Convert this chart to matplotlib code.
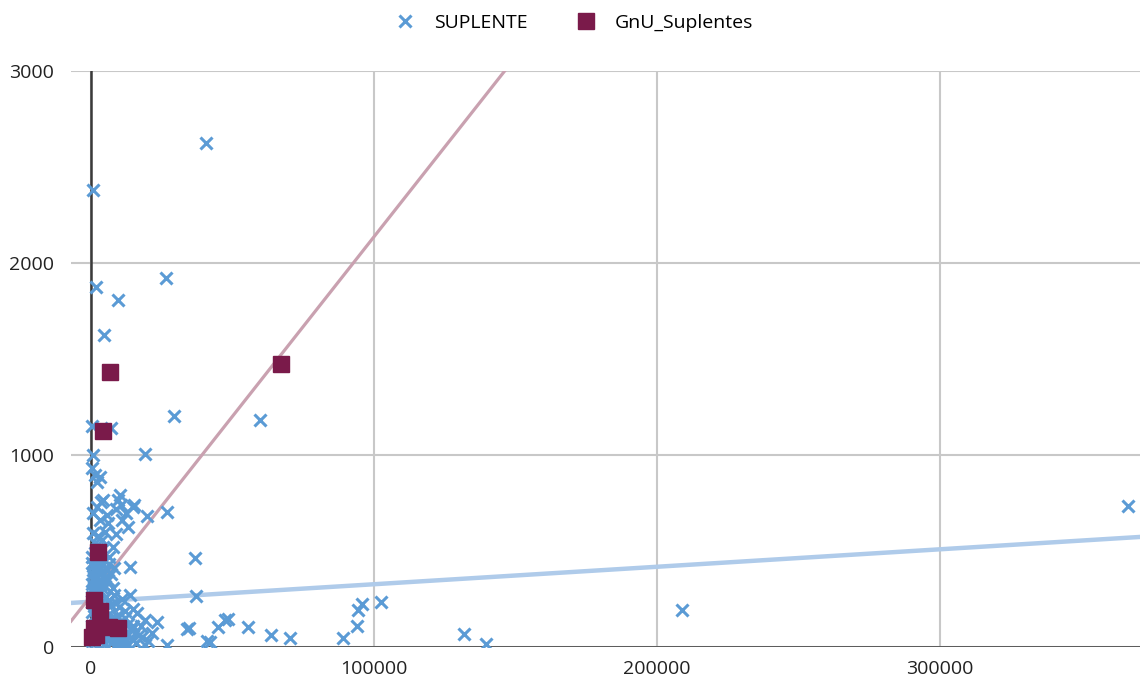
import matplotlib.pyplot as plt
import numpy as np

plt.rcParams['font.family'] = ['Open Sans', 'DejaVu Sans']

# SUPLENTE points
sup_x = [40600, 700, 26500, 1800, 9500, 4600, 29300, 59600, 300, 7200, 19100, 700, 500, 1500, 3200, 2000,
         3500, 26800, 19800, 36700, 37100, 13800, 95600, 94300, 94000, 89000, 102500, 33800, 34600, 44800,
         48300, 55600, 63500, 70300, 40900, 42000, 131700, 139600, 208800, 366400,
         10200, 9500, 4200, 14800, 700, 3200, 6000, 11000, 13100, 8800, 10500, 5500, 2000, 12500, 15200,
         700, 3900, 7800, 1500, 2500, 5000, 500, 2000, 9000, 6500,
         300, 800, 1500, 2200, 3000, 600, 1200, 2000, 2800, 3800, 500, 1000, 1800, 2600, 3500, 4500, 5500,
         6500, 400, 1400, 2300, 3200, 4200, 5000, 700, 1600, 4000, 6000, 7000, 8000,
         200, 900, 1700, 2600, 3400, 4300, 5200, 6100, 7000, 8000, 9000, 10000, 11000, 12000,
         300, 1100, 2000, 2900, 3800, 4700, 5600, 6500, 7400, 8300, 9200, 10100, 11000, 12000, 13000,
         14000, 15000, 16000, 17000, 18000, 400, 1300, 2200, 3100, 4000, 4900, 5800, 6700, 7600, 8500,
         9400, 10300, 11200, 12100, 13000, 14500, 16000, 19000, 500, 1500, 2500, 3500, 16300, 19100,
         23300, 21600, 27000, 20000, 47300, 13800, 7800, 15000, 17500, 5000, 6000, 7000, 8000, 9000,
         10000, 11000, 12000]
sup_y = [2625, 2380, 1920, 1875, 1805, 1625, 1205, 1185, 1150, 1140, 1005, 1000, 930, 895, 885, 860,
         755, 705, 680, 465, 265, 415, 225, 195, 110, 45, 235, 95, 100, 105,
         145, 105, 65, 45, 30, 25, 70, 15, 195, 735,
         790, 765, 765, 730, 700, 660, 645, 660, 625, 720, 740, 690, 730, 700, 740,
         595, 555, 520, 540, 580, 600, 470, 510, 590, 470,
         440, 420, 400, 430, 410, 380, 360, 370, 350, 390, 330, 310, 320, 300, 330, 360, 400,
         430, 290, 285, 340, 290, 300, 320, 350, 440, 440, 350, 380, 410,
         260, 240, 220, 250, 230, 210, 260, 240, 220, 270, 230, 210, 250, 190,
         180, 160, 190, 170, 150, 180, 140, 170, 150, 120, 160, 130, 110, 150, 120,
         90, 110, 80, 60, 50, 110, 90, 70, 100, 60, 80, 40, 70, 30, 60,
         20, 40, 15, 30, 10, 40, 20, 10, 30, 20, 10, 25, 175, 140,
         130, 75, 10, 30, 140, 270, 305, 200, 110, 15, 45, 20, 50, 10,
         35, 20, 45]

# GnU_Suplentes points
gnu_x = [6700, 67100, 4200, 2300, 1000, 3000, 1000, 9500, 6500, 400, 1800]
gnu_y = [1435, 1475, 1125, 495, 245, 190, 99, 99, 105, 50, 60]

# linear trend lines (intercept, slope) as shown on the chart
sup_trend = (236, 0.00091)
gnu_trend = (267, 0.0187)

fig = plt.figure(figsize=(11.4, 6.81), dpi=100)
ax = fig.add_axes([0.0623, 0.0499, 0.9377, 0.8458])

ax.axline((0, sup_trend[0]), slope=sup_trend[1], color='#AFCBEA', linewidth=3.2, zorder=2)
ax.axline((0, gnu_trend[0]), slope=gnu_trend[1], color='#C9A1B0', linewidth=2.3, zorder=2)

ax.plot(sup_x, sup_y, linestyle='none', marker='x', markersize=8.5, markeredgewidth=2.2,
        color='#5B9BD5', label='SUPLENTE', zorder=3)
ax.plot(gnu_x, gnu_y, linestyle='none', marker='s', markersize=12, color='#7A1A4A',
        markeredgecolor='#7A1A4A', label='GnU_Suplentes', zorder=4)

ax.set_xlim(-7070, 370670)
ax.set_ylim(0, 3000)
ax.set_xticks([0, 100000, 200000, 300000])
ax.set_yticks([0, 1000, 2000, 3000])
for s in ax.spines.values():
    s.set_visible(False)
ax.grid(True, color='#C8C8C8', linewidth=1.5, zorder=0)
ax.set_axisbelow(True)
ax.axhline(0, color='#3A3A3A', linewidth=1.8, zorder=1)
ax.axvline(0, color='#3A3A3A', linewidth=1.8, zorder=1)
ax.tick_params(length=0, labelsize=14, colors='#222222')
ax.tick_params(axis='y', pad=12)
ax.tick_params(axis='x', pad=9)

fig.legend(loc='upper center', bbox_to_anchor=(0.503, 1.005), ncol=2, frameon=False,
           fontsize=14, handletextpad=0.9, columnspacing=2.4, handlelength=1.2)

fig.savefig('out.png', dpi=100)
